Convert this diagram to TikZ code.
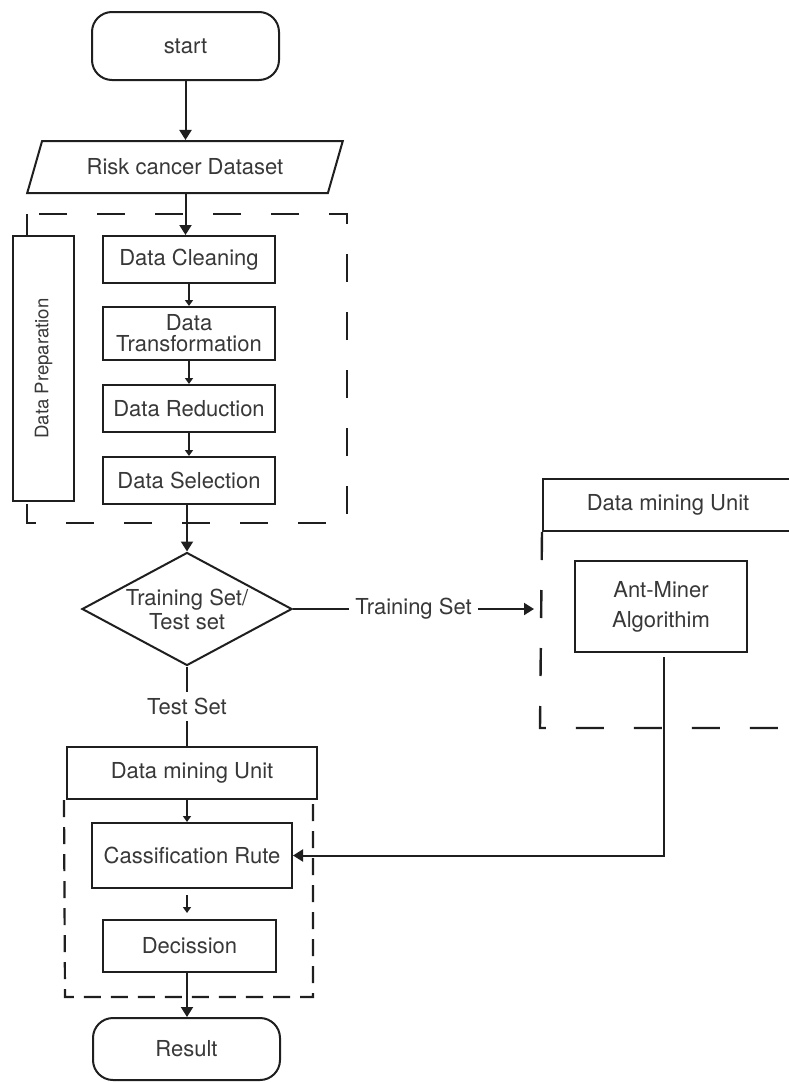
\documentclass[tikz,border=0pt]{standalone}
\usepackage{fontspec}
\setmainfont{TeX Gyre Heros}
\usetikzlibrary{shapes.geometric, arrows.meta}

\begin{document}
\begin{tikzpicture}[x=0.5pt, y=-0.5pt, line width=1pt, color={black!88},
    font=\fontsize{11}{12}\selectfont,
    box/.style={draw, fill=white, align=center, inner sep=0pt, text=black!78},
    term/.style={box, rounded corners=10pt},
    dashbox/.style={dash pattern=on 14pt off 15pt, line width=1.2pt},
    dashsmall/.style={dash pattern=on 8.5pt off 5pt, line width=1.1pt},
    arr/.style={-{Triangle[width=6pt, length=5pt]}},
    small/.style={-{Triangle[width=4pt, length=3pt]}, line width=0.8pt},
    lbl/.style={fill=white, inner sep=3pt, text=black!78}]
    \useasboundingbox (0,0) rectangle (788,1082);

    % preparation block
    \draw[dashbox] (27,214) rectangle (347,523);
    \node[term, minimum width=93.5pt, minimum height=34pt] (start) at (185.5,46) {start};
    \node[box, trapezium, trapezium left angle=58, trapezium right angle=122,
          trapezium stretches=true, minimum width=158pt, minimum height=26pt]
          (dataset) at (185,167) {Risk cancer Dataset};
    \node[box, minimum width=30.5pt, minimum height=132.5pt,
          font=\fontsize{9.3}{10}\selectfont] (prep) at (43.5,368.5)
          {\rotatebox{90}{Data Preparation}};
    \node[box, minimum width=86pt, minimum height=23.5pt] (clean) at (189,259.5) {Data Cleaning};
    \node[box, minimum width=86pt, minimum height=26.5pt,
          font=\fontsize{11}{10.5}\selectfont] (transform) at (189,333.5) {Data\\Transformation};
    \node[box, minimum width=86pt, minimum height=23.5pt] (reduce) at (189,408.5) {Data Reduction};
    \node[box, minimum width=86pt, minimum height=23.5pt] (select) at (189,480.5) {Data Selection};

    % split
    \node[box, diamond, aspect=1.86, minimum width=105pt, minimum height=56.5pt] (split) at (187,609)
          {Training Set/\\Test set};
    \coordinate (minein) at (534,609);

    % mining unit (right)
    \node[box, minimum width=125pt, minimum height=26pt] (mineunit) at (668,505) {Data mining Unit};
    \draw[dashbox] (mineunit.south west) -- (540,728) -- (800,728);
    \node[box, minimum width=86pt, minimum height=45.5pt,
          font=\fontsize{11}{15}\selectfont] (miner) at (661,606.5) {Ant-Miner\\Algorithim};

    % mining unit (left)
    \node[box, minimum width=125pt, minimum height=26pt] (dmu) at (192,773) {Data mining Unit};
    \draw[dashsmall] (dmu.south west) ++(-2,0) -- (65,997) -- (313,997) -- (313,799);
    \node[box, minimum width=100pt, minimum height=32.5pt] (rule) at (192,855.5) {Cassification Rute};
    \node[box, minimum width=86.5pt, minimum height=26pt] (decide) at (189.5,946) {Decission};
    \node[term, minimum width=93.5pt, minimum height=31pt] (result) at (186.5,1049) {Result};

    \draw[arr] (start) -- (start |- dataset.north);
    \draw[arr] (dataset.south -| start) -- (start |- clean.north);
    \draw[small] (clean) -- (transform);
    \draw[small] (transform) -- (reduce);
    \draw[small] (reduce) -- (select);
    \draw[arr] (select.south -| split) -- (split.north);
    \draw[arr] (split.east) -- node[lbl] {Training Set} (minein);
    \draw (split.south) -- node[lbl] {Test Set} (split.south |- dmu.north);
    \draw[small] (dmu.south -| split) -- (split |- rule.north);
    \draw[small, shorten <=3pt, shorten >=3pt] (rule.south -| split) -- (split |- decide.north);
    \draw[arr] (decide.south -| split) -- (split |- result.north);
    \draw[arr, shorten <=2.5pt] (664,652) |- (rule.east);
\end{tikzpicture}
\end{document}
